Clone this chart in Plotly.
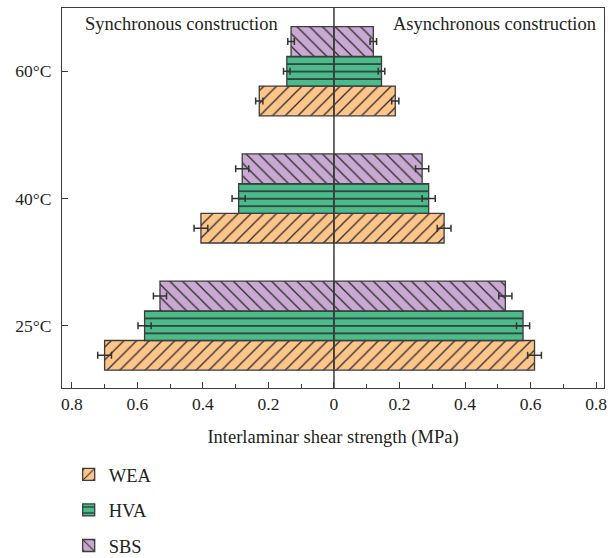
import plotly.graph_objects as go

# ---- data (MPa) ----
temps = ['25°C', '40°C', '60°C']
series_names = ['WEA', 'HVA', 'SBS']

wea_sync = [0.700, 0.406, 0.228]
wea_async = [0.612, 0.336, 0.187]
hva_sync = [0.578, 0.291, 0.144]
hva_async = [0.577, 0.289, 0.145]
sbs_sync = [0.531, 0.280, 0.131]
sbs_async = [0.523, 0.269, 0.120]

wea_err = [0.021, 0.021, 0.011]
hva_err = [0.020, 0.020, 0.010]
sbs_err = [0.020, 0.020, 0.010]

x_tickvals = [-0.8, -0.6, -0.4, -0.2, 0, 0.2, 0.4, 0.6, 0.8]
x_ticktext = ['0.8', '0.6', '0.4', '0.2', '0', '0.2', '0.4', '0.6', '0.8']
x_minorvals = [-0.7, -0.5, -0.3, -0.1, 0.1, 0.3, 0.5, 0.7]

# ---- styles ----
FONT = 'Liberation Serif'
TXT = '#231f20'
EDGE = '#3c3c3c'
BAR_W = 0.2335
styles = {
    'WEA': dict(color='#FEC58A', shape='/', size=9, solidity=0.14, offset=-1.5 * BAR_W),
    'HVA': dict(color='#4BBB8B', shape='-', size=7.48, solidity=0.2, offset=-0.5 * BAR_W),
    'SBS': dict(color='#C9A9D2', shape='\\', size=9, solidity=0.14, offset=0.5 * BAR_W),
}
data = {
    'WEA': (wea_sync, wea_async, wea_err),
    'HVA': (hva_sync, hva_async, hva_err),
    'SBS': (sbs_sync, sbs_async, sbs_err),
}

fig = go.Figure()
for name in series_names:
    st = styles[name]
    sync, asyn, err = data[name]
    for side, vals in (('sync', [-v for v in sync]), ('async', list(asyn))):
        fig.add_trace(go.Bar(
            y=temps, x=vals, orientation='h', name=name,
            legendgroup=name, showlegend=(side == 'sync'),
            width=BAR_W, offset=st['offset'],
            marker=dict(color=st['color'],
                        line=dict(color=EDGE, width=1.3),
                        pattern=dict(shape=st['shape'], size=st['size'],
                                     solidity=st['solidity'], fgcolor='#2a2a2a',
                                     bgcolor=st['color'], fillmode='replace')),
            error_x=dict(type='data', array=err, visible=True,
                         color='#333333', thickness=1.5, width=3.5),
            hoverinfo='skip',
        ))

fig.add_shape(type='line', xref='x', yref='paper', x0=0, x1=0, y0=0, y1=1,
              line=dict(color='#3a3a3a', width=1.5), layer='above')

fig.add_annotation(text='Synchronous construction', xref='paper', yref='paper',
                   x=0.0387, y=0.958, xanchor='left', yanchor='middle',
                   showarrow=False, font=dict(family=FONT, size=18.5, color=TXT))
fig.add_annotation(text='Asynchronous construction', xref='paper', yref='paper',
                   x=0.989, y=0.958, xanchor='right', yanchor='middle',
                   showarrow=False, font=dict(family=FONT, size=18.5, color=TXT))

fig.update_layout(
    width=608, height=558,
    margin=dict(l=62, r=4, t=8, b=170, autoexpand=False),
    plot_bgcolor='white', paper_bgcolor='white',
    barmode='overlay',
    font=dict(family=FONT, size=18, color=TXT),
    legend=dict(xref='container', yref='container',
                x=0.113, xanchor='left', y=0.183, yanchor='top',
                orientation='v', tracegroupgap=8.5, traceorder='grouped',
                font=dict(family=FONT, size=18.5, color=TXT),
                bgcolor='rgba(0,0,0,0)'),
)
fig.update_xaxes(
    range=[-0.830, 0.824], tickmode='array', tickvals=x_tickvals, ticktext=x_ticktext,
    ticks='inside', ticklen=6, tickwidth=1.3, tickcolor=EDGE,
    minor=dict(tickvals=x_minorvals, ticks='inside', ticklen=3.5, tickwidth=1.2, tickcolor=EDGE),
    showline=True, linecolor=EDGE, linewidth=1.3, mirror=True,
    showgrid=False, zeroline=False,
    tickfont=dict(family=FONT, size=17.5, color=TXT),
    title=dict(text='Interlaminar shear strength (MPa)', standoff=16,
               font=dict(family=FONT, size=18.5, color=TXT)),
)
fig.update_yaxes(
    type='category', categoryorder='array', categoryarray=temps,
    range=[-0.49, 2.497],
    ticks='inside', ticklen=6, tickwidth=1.3, tickcolor=EDGE,
    showline=True, linecolor=EDGE, linewidth=1.3, mirror=True,
    showgrid=False, zeroline=False, ticklabelstandoff=6,
    tickfont=dict(family=FONT, size=17.5, color=TXT),
)

fig.write_html('out.html')
